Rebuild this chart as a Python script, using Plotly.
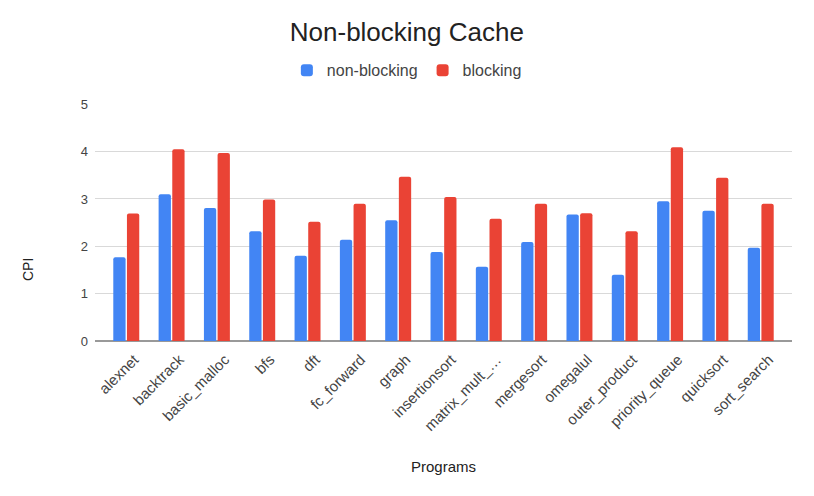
import plotly.graph_objects as go

programs = ["alexnet", "backtrack", "basic_malloc", "bfs", "dft", "fc_forward", "graph",
            "insertionsort", "matrix_mult_…", "mergesort", "omegalul", "outer_product",
            "priority_queue", "quicksort", "sort_search"]
non_blocking = [1.77, 3.10, 2.81, 2.32, 1.80, 2.14, 2.55, 1.88, 1.57, 2.09, 2.67, 1.40, 2.95, 2.75, 1.97]
blocking = [2.69, 4.05, 3.97, 2.99, 2.52, 2.90, 3.47, 3.04, 2.58, 2.90, 2.70, 2.32, 4.09, 3.45, 2.90]
y_ticks = [0, 1, 2, 3, 4, 5]

font = "Arial"

fig = go.Figure()
fig.add_trace(go.Bar(name="non-blocking", x=programs, y=non_blocking, marker_color="#4285F4",
                     marker_line_width=0))
fig.add_trace(go.Bar(name="blocking", x=programs, y=blocking, marker_color="#EA4335",
                     marker_line_width=0))

fig.update_layout(
    width=814, height=496,
    margin=dict(l=87, r=30, t=96, b=163, autoexpand=False),
    paper_bgcolor="white", plot_bgcolor="white",
    font=dict(family=font, color="#444444", size=13),
    title=dict(text="Non-blocking Cache", xref="container", x=0.49, xanchor="center",
               y=0.952, yanchor="middle",
               font=dict(family=font, size=26, color="#222222")),
    barmode="group", bargap=0.397, bargroupgap=0.1, barcornerradius=2,
    legend=dict(orientation="h", xref="container", x=0.49, xanchor="center",
                y=1.142, yanchor="middle",
                font=dict(size=16, color="#444444"), itemwidth=30),
    xaxis=dict(tickangle=-45, tickfont=dict(size=15, color="#444444"), automargin=False,
               range=[-0.69, 14.69], ticklabelstandoff=6, ticklabelshift=8,
               showgrid=False, showline=False, ticks=""),
    yaxis=dict(range=[0, 5.005], tickvals=y_ticks, tickfont=dict(size=13, color="#444444"),
               automargin=False, ticklabelstandoff=6,
               gridcolor="#d9d9d9", gridwidth=1, zeroline=True, zerolinecolor="#999999",
               zerolinewidth=2, ticks="", showline=False),
    annotations=[
        dict(text="Programs", xref="paper", yref="paper", x=0.5, y=-0.529,
             xanchor="center", yanchor="middle", showarrow=False,
             font=dict(size=15, color="#222222", family=font)),
        dict(text="CPI", xref="paper", yref="paper", x=-0.096, y=0.30,
             xanchor="center", yanchor="middle", showarrow=False, textangle=-90,
             font=dict(size=14, color="#222222", family=font)),
    ],
)

fig.write_html("out.html")
